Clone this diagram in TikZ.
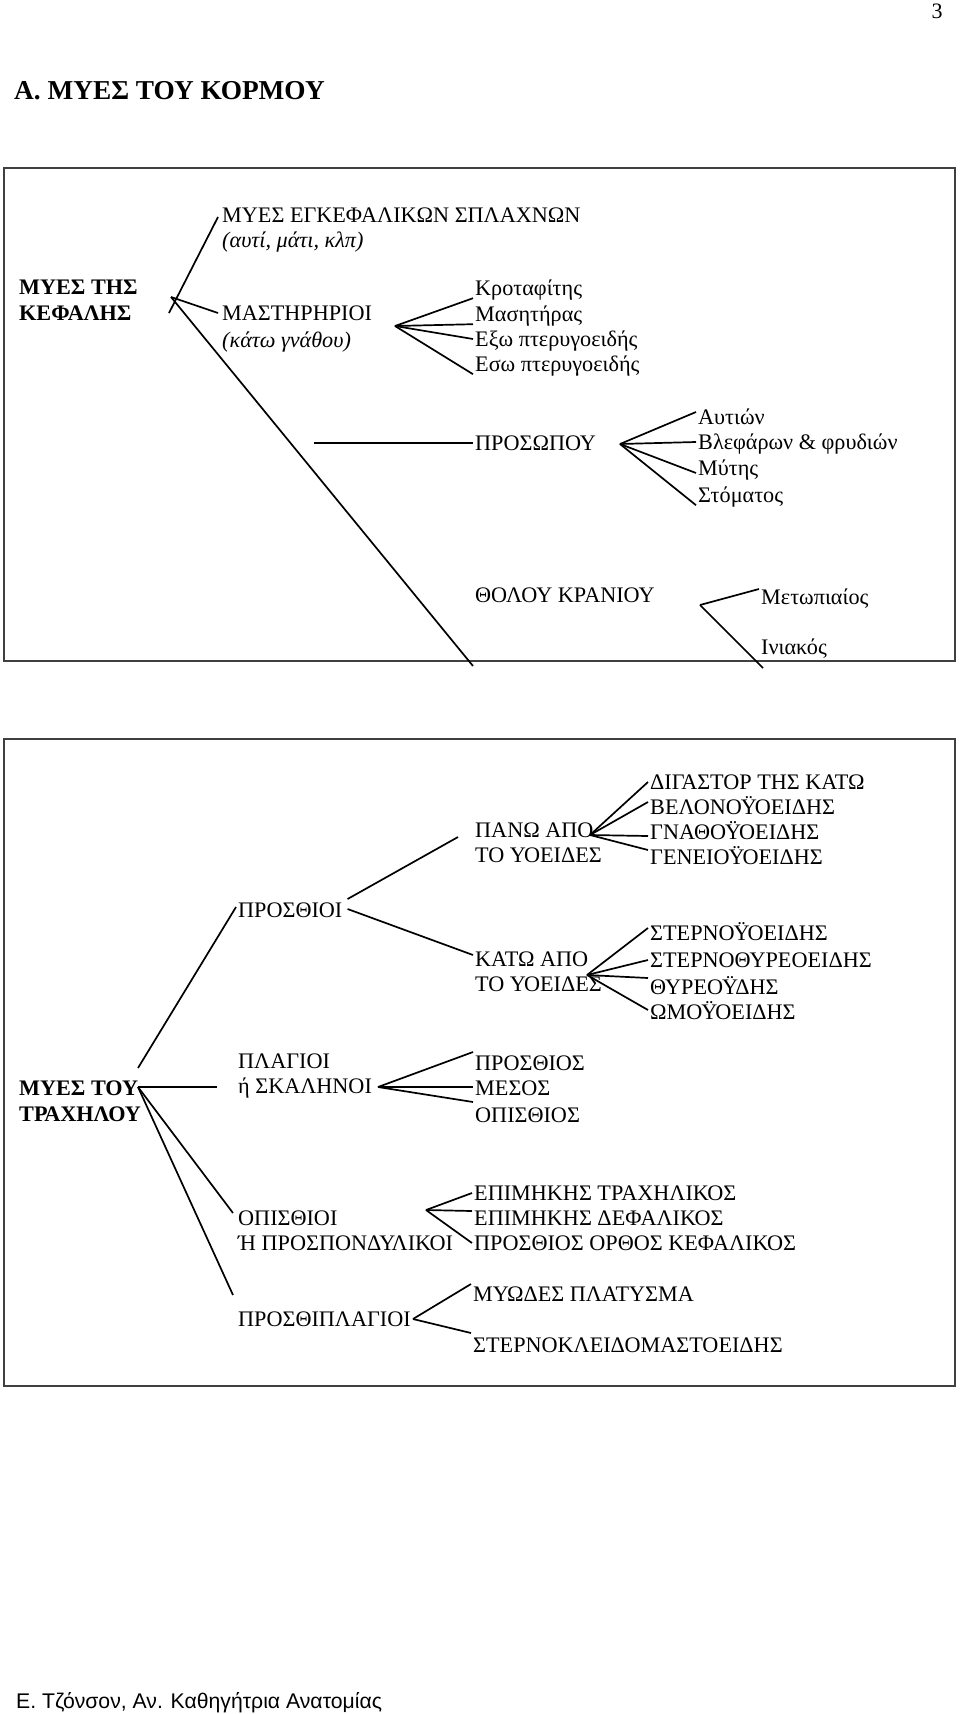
\documentclass[tikz,border=0pt]{standalone}
\usepackage{fontspec}
\setmainfont{Liberation Serif}
\newfontfamily\footfont{Liberation Sans}
\usetikzlibrary{calc}
\tikzset{
  txt/.style={anchor=west, inner xsep=2pt, inner ysep=0pt, text height=17pt, text depth=3pt, font=\fontsize{22.2}{25}\selectfont},
  ittxt/.style={txt, font=\fontsize{22.2}{25}\selectfont\itshape},
  mtxt/.style={anchor=west, inner xsep=2pt, inner ysep=0pt, align=left, font=\fontsize{22.2}{25}\selectfont},
  btxt/.style={mtxt, font=\fontsize{22.2}{26}\selectfont\bfseries},
  lnk/.style={line width=1.7pt},
  panel/.style={line width=1.5pt, draw=black!75}
}

\begin{document}
\begin{tikzpicture}[x=1pt, y=-1pt]
		%%%%% START %%%%%
		\useasboundingbox (0,0) rectangle (960,1714);
		\node[inner sep=0pt, font=\fontsize{22}{25}\selectfont] (pg) at (937,11) {3};
		\node[anchor=west, inner sep=0pt, font=\fontsize{27.3}{32}\selectfont\bfseries] (ttl) at (14,91) {Α. ΜΥΕΣ ΤΟΥ ΚΟΡΜΟΥ};
		\node[anchor=west, inner sep=0pt, font=\footfont\fontsize{21.2}{25}\selectfont] (ftr) at (16,1703) {Ε. Τζόνσον, Αν. Καθηγήτρια Ανατομίας};
		
		\draw[panel] (4,168) rectangle (955,661);
		\draw[panel] (4,739) rectangle (955,1386);
		
		%%%%% HEAD %%%%%
		\node[btxt] (hd) at (17,300) {ΜΥΕΣ ΤΗΣ\\ΚΕΦΑΛΗΣ};
		\coordinate (hdhub) at (171,297);
		\coordinate (hdtail) at (169,313);
		\coordinate (skullend) at (473,666);
		\node[txt] (vis) at (220,215) {ΜΥΕΣ ΕΓΚΕΦΑΛΙΚΩΝ ΣΠΛΑΧΝΩΝ};
		\node[ittxt] (visnote) at (220,240) {(αυτί, μάτι, κλπ)};
		\node[txt] (mast) at (220,313) {ΜΑΣΤΗΡΗΡΙΟΙ};
		\node[ittxt] (mastnote) at (220,340) {(κάτω γνάθου)};
		\draw[lnk] (hdtail) -- ([xshift=-2pt,yshift=-2pt]vis.west);
		\draw[lnk] (hdhub) -- ([xshift=-2pt]mast.west);
		\draw[lnk] (hdhub) -- (skullend);
		
		\coordinate (masthub) at (395,326);
		\node[txt] (kro) at (473,288) {Κροταφίτης};
		\node[txt] (masit) at (473,314) {Μασητήρας};
		\node[txt] (exo) at (473,339) {Εξω πτερυγοειδής};
		\node[txt] (eso) at (473,364) {Εσω πτερυγοειδής};
		\foreach \m in {kro,masit,eso}
			\draw[lnk] (masthub) -- (\m.south west);
		\draw[lnk] (masthub) -- (exo.west);
		
		\coordinate (facestub) at (314,443);
		\coordinate (facehub) at (620,444);
		\node[txt] (face) at (473,443) {ΠΡΟΣΩΠΟΥ};
		\draw[lnk] (facestub) -- (face.west);
		\node[txt] (ayt) at (696,417) {Αυτιών};
		\node[txt] (vlef) at (696,442) {Βλεφάρων \& φρυδιών};
		\node[txt] (myt) at (696,468) {Μύτης};
		\node[txt] (stom) at (696,495) {Στόματος};
		\draw[lnk] (facehub) -- ([yshift=5pt]ayt.west);
		\draw[lnk] (facehub) -- (vlef.west);
		\draw[lnk] (facehub) -- ([yshift=-5pt]myt.west);
		\draw[lnk] (facehub) -- (stom.south west);
		
		\coordinate (skullhub) at (700,605);
		\coordinate (iniend) at (763,668);
		\node[txt] (thol) at (473,595) {ΘΟΛΟΥ ΚΡΑΝΙΟΥ};
		\node[txt] (met) at (759,597) {Μετωπιαίος};
		\node[txt] (ini) at (759,647) {Ινιακός};
		\draw[lnk] (skullhub) -- ([yshift=8pt]met.west);
		\draw[lnk] (skullhub) -- (iniend);
		
		%%%%% NECK %%%%%
		\node[btxt] (nk) at (17,1101) {ΜΥΕΣ ΤΟΥ\\ΤΡΑΧΗΛΟΥ};
		\coordinate (nkhub) at (138,1087);
		\node[txt] (ant) at (236,910) {ΠΡΟΣΘΙΟΙ};
		\node[mtxt] (lat) at (236,1076) {ΠΛΑΓΙΟΙ\\ή ΣΚΑΛΗΝΟΙ};
		\node[mtxt] (post) at (236,1231) {ΟΠΙΣΘΙΟΙ\\Ή ΠΡΟΣΠΟΝΔΥΛΙΚΟΙ};
		\node[txt] (plat) at (236,1319) {ΠΡΟΣΘΙΠΛΑΓΙΟΙ};
		\draw[lnk] ([yshift=19pt]nkhub) -- ([yshift=3pt]ant.west);
		\draw[lnk] (nkhub) -- ($(lat.west)+(-19,11)$);
		\draw[lnk] (nkhub) -- ($(post.west)+(-3,-18)$);
		\draw[lnk] (nkhub) -- ($(plat.west)+(-3,-24)$);
		
		\node[mtxt] (pano) at (473,843) {ΠΑΝΩ ΑΠΟ\\ΤΟ ΥΟΕΙΔΕΣ};
		\node[mtxt] (kato) at (473,972) {ΚΑΤΩ ΑΠΟ\\ΤΟ ΥΟΕΙΔΕΣ};
		\draw[lnk] ([xshift=3pt,yshift=11pt]ant.east) -- ($(pano.west)+(-15,-6)$);
		\draw[lnk] ([xshift=3pt,yshift=1pt]ant.east) -- ($(kato.west)+(0,-17)$);
		
		\coordinate (panohub) at (590,835);
		\node[txt] (dig) at (648,782) {ΔΙΓΑΣΤΟΡ ΤΗΣ ΚΑΤΩ};
		\node[txt] (vel) at (648,807) {ΒΕΛΟΝΟΫΟΕΙΔΗΣ};
		\node[txt] (gna) at (648,832) {ΓΝΑΘΟΫΟΕΙΔΗΣ};
		\node[txt] (gen) at (648,857) {ΓΕΝΕΙΟΫΟΕΙΔΗΣ};
		\draw[lnk] (panohub) -- (dig.west);
		\draw[lnk] (panohub) -- ([yshift=5pt]vel.west);
		\draw[lnk] (panohub) -- ([yshift=-4pt]gna.west);
		\draw[lnk] (panohub) -- ([yshift=7pt]gen.west);
		
		\coordinate (katohub) at (587,975);
		\node[txt] (ster) at (648,933) {ΣΤΕΡΝΟΫΟΕΙΔΗΣ};
		\node[txt] (stth) at (648,960) {ΣΤΕΡΝΟΘΥΡΕΟΕΙΔΗΣ};
		\node[txt] (thyr) at (648,987) {ΘΥΡΕΟΫΔΗΣ};
		\node[txt] (omo) at (648,1012) {ΩΜΟΫΟΕΙΔΗΣ};
		\draw[lnk] (katohub) -- ([yshift=5pt]ster.west);
		\draw[lnk] (katohub) -- (stth.west);
		\draw[lnk] (katohub) -- ([yshift=9pt]thyr.west);
		\draw[lnk] (katohub) -- ([yshift=2pt]omo.west);
		
		\coordinate (lathub) at (378,1087);
		\node[txt] (prs) at (473,1063) {ΠΡΟΣΘΙΟΣ};
		\node[txt] (mes) at (473,1088) {ΜΕΣΟΣ};
		\node[txt] (opi) at (473,1115) {ΟΠΙΣΘΙΟΣ};
		\draw[lnk] (lathub) -- ([yshift=11pt]prs.west);
		\draw[lnk] (lathub) -- ([yshift=1pt]mes.west);
		\draw[lnk] (lathub) -- ([yshift=13pt]opi.west);
		
		\coordinate (posthub) at (426,1210);
		\node[txt] (et) at (472,1193) {ΕΠΙΜΗΚΗΣ ΤΡΑΧΗΛΙΚΟΣ};
		\node[txt] (ed) at (472,1218) {ΕΠΙΜΗΚΗΣ ΔΕΦΑΛΙΚΟΣ};
		\node[txt] (po) at (472,1243) {ΠΡΟΣΘΙΟΣ ΟΡΘΟΣ ΚΕΦΑΛΙΚΟΣ};
		\draw[lnk] (posthub) -- (et.west);
		\draw[lnk] (posthub) -- ([yshift=7pt]ed.west);
		\draw[lnk] (posthub) -- (po.west);
		
		\node[txt] (myo) at (471,1294) {ΜΥΩΔΕΣ ΠΛΑΤΥΣΜΑ};
		\node[txt] (scm) at (471,1345) {ΣΤΕΡΝΟΚΛΕΙΔΟΜΑΣΤΟΕΙΔΗΣ};
		\draw[lnk] (plat.east) -- ([yshift=10pt]myo.west);
		\draw[lnk] (plat.east) -- ([yshift=12pt]scm.west);
		%%%%% END %%%%%
\end{tikzpicture}
\end{document}
